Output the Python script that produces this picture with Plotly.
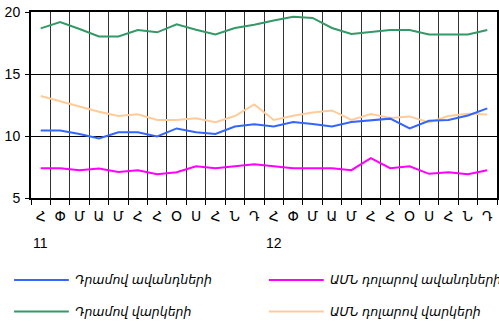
import plotly.graph_objects as go

# Monthly periods, Jan 2011 - Dec 2012
periods = [f"{y}-{m:02d}" for y in (2011, 2012) for m in range(1, 13)]
month_letters = ["Հ", "Փ", "Մ", "Ա", "Մ", "Հ", "Հ", "Օ", "Ս", "Հ", "Ն", "Դ"] * 2
year_labels = {"2011-01": "11", "2012-01": "12"}

# Interest rates, %
amd_deposits = [10.45, 10.45, 10.16, 9.81, 10.30, 10.30, 9.97, 10.61, 10.31, 10.16, 10.77, 10.94,
                10.77, 11.13, 10.97, 10.77, 11.13, 11.26, 11.40, 10.61, 11.23, 11.29, 11.66, 12.23]
usd_deposits = [7.40, 7.40, 7.23, 7.38, 7.10, 7.24, 6.92, 7.08, 7.56, 7.40, 7.56, 7.73,
                7.56, 7.40, 7.40, 7.40, 7.24, 8.21, 7.40, 7.56, 6.95, 7.08, 6.92, 7.24]
amd_loans = [18.68, 19.19, 18.63, 18.03, 18.03, 18.55, 18.36, 19.00, 18.57, 18.19, 18.71, 18.98,
             19.32, 19.62, 19.52, 18.71, 18.23, 18.36, 18.55, 18.55, 18.19, 18.19, 18.19, 18.55]
usd_loans = [13.22, 12.80, 12.35, 11.95, 11.62, 11.76, 11.30, 11.30, 11.43, 11.12, 11.61, 12.55,
             11.29, 11.64, 11.90, 12.06, 11.29, 11.77, 11.45, 11.58, 11.10, 11.61, 11.80, 11.74]

series = [
    ("Դրամով ավանդների", amd_deposits, "#3366FF"),
    ("ԱՄՆ դոլարով ավանդների", usd_deposits, "#FF00FF"),
    ("Դրամով վարկերի", amd_loans, "#339966"),
    ("ԱՄՆ դոլարով վարկերի", usd_loans, "#FFCC99"),
]

FONT = "Liberation Sans, Arial, DejaVu Sans, sans-serif"
W, H = 499, 326
ML, MR, MT, MB = 31, 0, 12, 128
pw, ph = W - ML - MR, H - MT - MB

fig = go.Figure()
# draw order: loans first, deposits on top
for idx in (3, 2, 1, 0):
    name, vals, color = series[idx]
    fig.add_trace(go.Scatter(x=periods, y=vals, mode="lines", name=name,
                             line=dict(color=color, width=2), showlegend=False))

def px_x(px):
    return (px - ML) / pw

def px_y(py):
    return (H - MB - py) / ph

# Legend drawn as two columns of line samples and italic labels
legend_pos = [(14, 280), (270, 280), (14, 311.5), (270, 311.5)]
shapes, annotations = [], []
for (name, vals, color), (lx, ly) in zip(series, legend_pos):
    shapes.append(dict(type="line", xref="paper", yref="paper",
                       x0=px_x(lx), x1=px_x(lx + 55), y0=px_y(ly), y1=px_y(ly),
                       line=dict(color=color, width=2)))
    annotations.append(dict(xref="paper", yref="paper", x=px_x(lx + 59), y=px_y(ly),
                            xanchor="left", yanchor="middle", showarrow=False,
                            text=f"<i>{name}</i>", font=dict(size=12.5, color="black", family=FONT)))

# Year labels under the first month of each year
for p, yl in year_labels.items():
    annotations.append(dict(xref="x", yref="paper", x=p, y=px_y(243),
                            xanchor="center", yanchor="middle", showarrow=False,
                            text=yl, font=dict(size=14, color="black", family=FONT)))

fig.update_layout(
    width=W, height=H,
    margin=dict(l=ML, r=MR, t=MT, b=MB, pad=0),
    paper_bgcolor="white", plot_bgcolor="white",
    font=dict(family=FONT, size=14, color="black"),
    shapes=shapes, annotations=annotations,
    showlegend=False,
)
fig.update_xaxes(
    type="category", categoryorder="array", categoryarray=periods,
    tickmode="array", tickvals=periods, ticktext=month_letters,
    tickson="boundaries", ticks="outside", ticklen=5, tickwidth=1, tickcolor="black",
    showgrid=True, gridcolor="#333333", gridwidth=1,
    showline=True, linecolor="black", linewidth=2, mirror=True,
    range=[-0.5, 23.5], tickfont=dict(size=14), tickangle=0, ticklabelstandoff=4,
    zeroline=False,
)
fig.update_yaxes(
    range=[5, 20], tickvals=[5, 10, 15, 20], ticks="outside", ticklen=4, tickcolor="black",
    showgrid=True, gridcolor="black", gridwidth=1,
    showline=True, linecolor="black", linewidth=2, mirror=True,
    tickfont=dict(size=14), zeroline=False, ticklabelstandoff=2,
)

fig.write_html("out.html", config={"displayModeBar": False})
